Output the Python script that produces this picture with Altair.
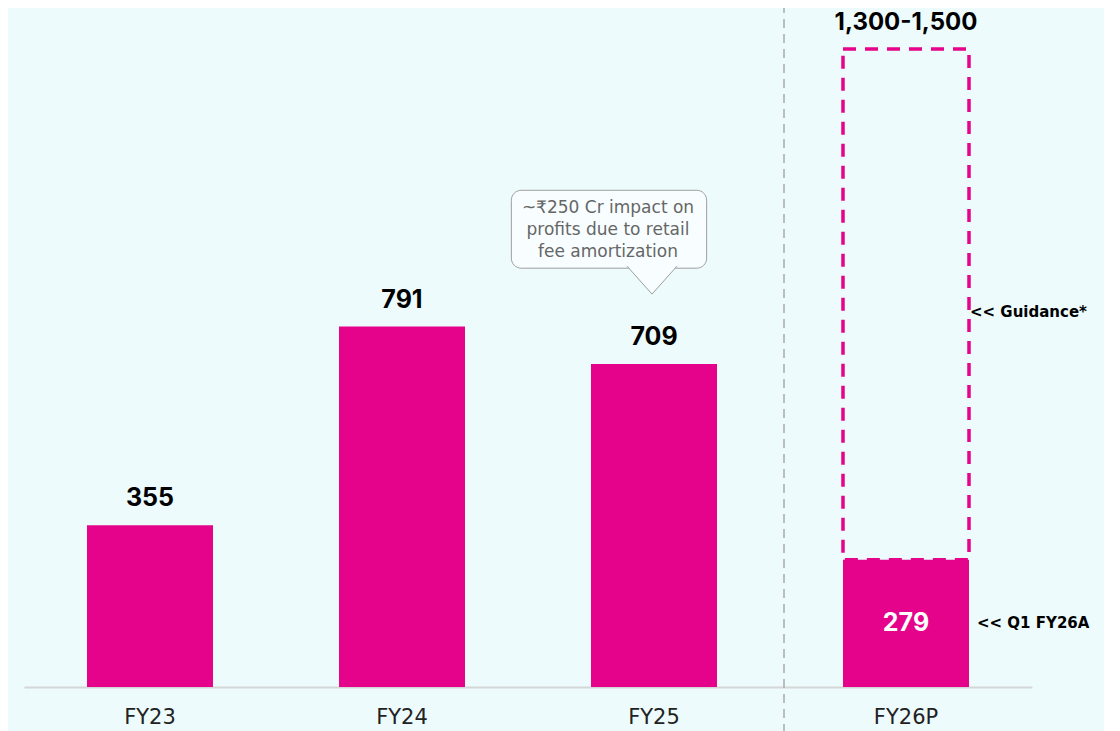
import altair as alt
import pandas as pd

# ---- data ----
categories = ["FY23", "FY24", "FY25", "FY26P"]
values = [355, 791, 709, 279]
value_labels = ["355", "791", "709", "279"]

guidance_label = "1,300-1,500"
guidance_box_top = 1400          # top of the dashed guidance box (value units)
guidance_side_text = "<< Guidance*"
guidance_side_y = 823
q1_text = "<< Q1 FY26A"

callout_text = "~₹250 Cr impact on\nprofits due to retail\nfee amortization"
callout_top = 1090
callout_bottom = 919
callout_text_y = 1051
callout_pointer_y = 917

MAGENTA = "#E6038B"
BG = "#EDFBFD"
FONT = "Inter"
FONT_W = "DejaVu Sans"
W, H = 1008, 638

xs = alt.Scale(domain=categories, paddingInner=0.5, paddingOuter=0.25)
ys = alt.Scale(domain=[0, 1400], nice=False, zero=True)
AX = alt.Axis(title=None, labelFontSize=21, labelColor="#222", labelFont=FONT_W,
              labelPadding=19, ticks=False, domainColor="#D4D6D8",
              domainWidth=2, labelAngle=0, grid=False)

df = pd.DataFrame({"cat": categories, "val": values, "label": value_labels})
df_g = pd.DataFrame({"cat": ["FY26P"], "low": [values[3]], "high": [guidance_box_top],
                     "label": [guidance_label], "side": [guidance_side_text],
                     "side_y": [guidance_side_y], "q1": [q1_text]})
df_c = pd.DataFrame({"cat": ["FY25"], "top": [callout_top], "bottom": [callout_bottom],
                     "ty": [callout_text_y], "py": [callout_pointer_y], "text": [callout_text]})

X = lambda **kw: alt.X("cat:N", scale=xs, sort=categories, axis=AX, **kw)

bars = alt.Chart(df).mark_bar(color=MAGENTA).encode(
    x=X(), y=alt.Y("val:Q", scale=ys, axis=None))

top_labels = alt.Chart(df).transform_filter("datum.cat != 'FY26P'").mark_text(
    font=FONT, fontSize=25, fontWeight="bold", color="#000", baseline="middle", dy=-27
).encode(x=X(), y=alt.Y("val:Q", scale=ys, axis=None), text="label:N")

inner_label = alt.Chart(df).transform_filter("datum.cat == 'FY26P'").transform_calculate(
    mid="datum.val / 2"
).mark_text(font=FONT, fontSize=25, fontWeight="bold", color="#fff", baseline="middle").encode(
    x=X(), y=alt.Y("mid:Q", scale=ys, axis=None), text="label:N")

sep = alt.Chart(df_g).mark_rule(color="#A9ABAD", strokeWidth=1.5, strokeDash=[9, 6],
                                xOffset=-59).encode(
    x=X(bandPosition=0), y=alt.value(-45), y2=alt.value(H + 46))

guid_box = alt.Chart(df_g).mark_bar(fillOpacity=0, stroke=MAGENTA, strokeWidth=3.5,
                                    strokeDash=[13, 9]).encode(
    x=X(), y=alt.Y("low:Q", scale=ys, axis=None), y2="high:Q")

guid_label = alt.Chart(df_g).mark_text(font=FONT, fontSize=24, fontWeight="bold", color="#000",
                                       baseline="middle", dy=-26).encode(
    x=X(), y=alt.Y("high:Q", scale=ys, axis=None), text="label:N")

guid_side = alt.Chart(df_g).mark_text(font=FONT_W, fontSize=15, fontWeight="bold", color="#000",
                                      baseline="middle", align="left", xOffset=64).encode(
    x=X(), y=alt.Y("side_y:Q", scale=ys, axis=None), text="side:N")

q1_side = alt.Chart(df_g).transform_calculate(mid="datum.low / 2").mark_text(
    font=FONT_W, fontSize=15, fontWeight="bold", color="#000", baseline="middle", align="left",
    xOffset=71).encode(x=X(), y=alt.Y("mid:Q", scale=ys, axis=None), text="q1:N")

callout_box = alt.Chart(df_c).mark_bar(width={"band": 1.55}, cornerRadius=10, fill="#F8FEFF",
                                       stroke="#9E9E9E", strokeWidth=1, xOffset=-45).encode(
    x=X(), y=alt.Y("top:Q", scale=ys, axis=None), y2="bottom:Q")

callout_ptr = alt.Chart(df_c).mark_point(shape="M -1 -0.12 L 0 1 L 1 -0.12", size=2500,
                                         filled=True, fill="#F8FEFF", stroke="#9E9E9E",
                                         strokeWidth=1, opacity=1, xOffset=-2).encode(
    x=X(), y=alt.Y("py:Q", scale=ys, axis=None))

callout_txt = alt.Chart(df_c).mark_text(font=FONT_W, fontSize=17, color="#666", lineBreak="\n",
                                        lineHeight=22, baseline="middle", xOffset=-46).encode(
    x=X(), y=alt.Y("ty:Q", scale=ys, axis=None), text="text:N")

chart = alt.layer(
    sep, bars, guid_box, top_labels, inner_label, guid_label, guid_side, q1_side,
    callout_box, callout_ptr, callout_txt
).properties(
    width=W, height=H, background=BG,
    padding={"left": 16, "top": 41, "right": 72, "bottom": 44},
    autosize=alt.AutoSizeParams(type="none"),
).configure_view(stroke=None)

chart.save("out.html", embed_options={"renderer": "svg", "actions": False})
